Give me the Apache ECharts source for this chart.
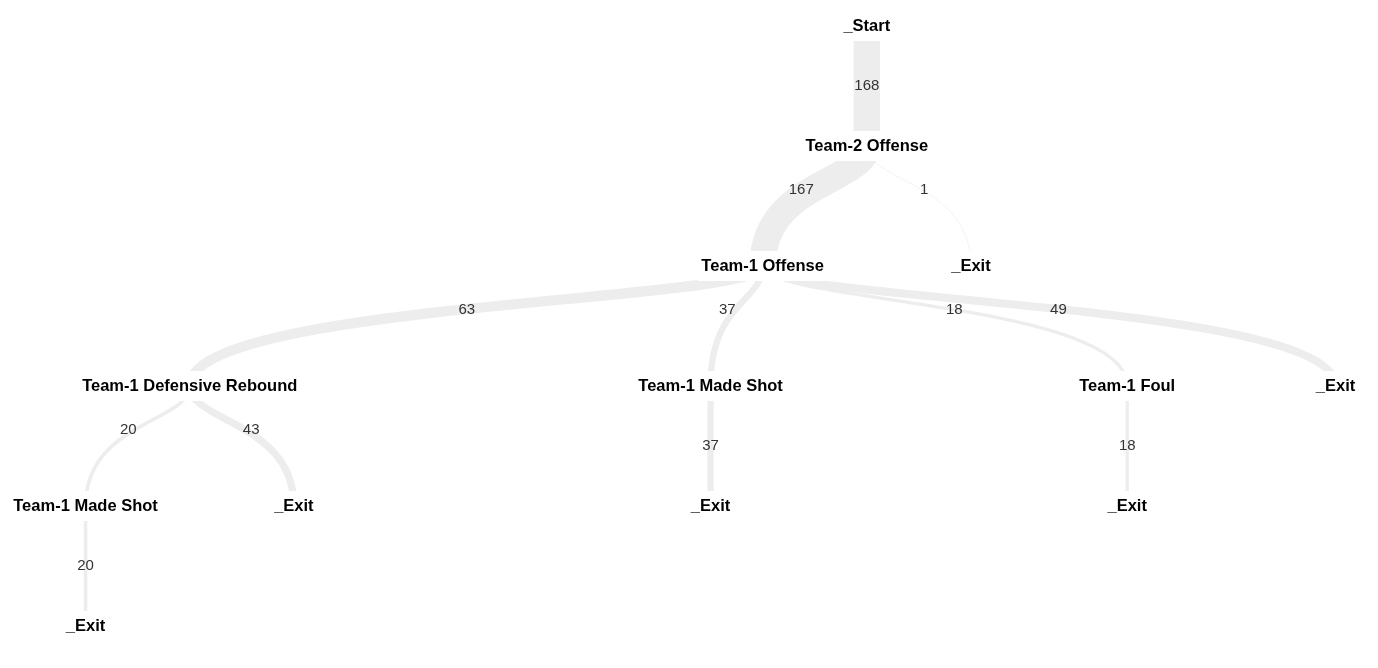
<!DOCTYPE html>
<html><head><meta charset="utf-8">
<script src="https://cdn.jsdelivr.net/npm/echarts@6/dist/echarts.min.js"></script>
<style>html,body{margin:0;padding:0;background:#fff}#c{width:1378px;height:668px}</style>
</head><body><div id="c"></div>
<script>
// ---- data ----
const nodeNames = ['_Start', 'Team-2 Offense', 'Team-1 Offense', '_Exit',
  'Team-1 Defensive Rebound', 'Team-1 Made Shot', 'Team-1 Foul', '_Exit',
  'Team-1 Made Shot', '_Exit', '_Exit', '_Exit', '_Exit'];
const parentIndex = [-1, 0, 1, 1, 2, 2, 2, 2, 4, 4, 5, 6, 8];
const linkValues = [null, 168, 167, 1, 63, 37, 18, 49, 20, 43, 37, 18, 20];

// ---- style ----
const FONT = "'Liberation Sans', Arial, Helvetica, sans-serif";
const LINK_COLOR = '#ededed';
const WIDTH_PER_UNIT = 0.155;
const CURVE_BEND = 0.3;   // both control points sit this far down the link

function buildNode(i) {
  const children = [];
  parentIndex.forEach((p, j) => { if (p === i) children.push(buildNode(j)); });
  const node = { name: nodeNames[i], value: linkValues[i], children: children };
  if (linkValues[i] != null) {
    node.lineStyle = { width: linkValues[i] * WIDTH_PER_UNIT + 0.5, color: LINK_COLOR };
  }
  return node;
}
const treeData = [buildNode(parentIndex.indexOf(-1))];

const chart = echarts.init(document.getElementById('c'), null, { renderer: 'canvas' });
const nodeLabel = {
  show: true, position: 'inside', formatter: '{b}',
  fontFamily: FONT, fontSize: 16.5, fontWeight: 'bold', color: '#000',
  backgroundColor: '#fff', padding: [5, 4], lineHeight: 20,
  align: 'center', verticalAlign: 'middle', rotate: 0
};
chart.setOption({
  animation: false,
  backgroundColor: '#fff',
  series: [{
    type: 'tree',
    orient: 'TB',
    data: treeData,
    left: -122.8, right: -165.9, top: 26, bottom: 42,
    initialTreeDepth: -1,
    expandAndCollapse: false,
    roam: false,
    edgeShape: 'curve',
    symbol: 'circle',
    symbolSize: 0.1,
    itemStyle: { color: 'rgba(0,0,0,0)', borderWidth: 0 },
    lineStyle: { color: LINK_COLOR, curveness: 0.5 },
    label: nodeLabel,
    leaves: { label: nodeLabel },
    emphasis: { disabled: true }
  }]
});

// ---- edge value labels, placed from the library's tree layout ----
function nodePos(data, series, node) {
  const el = data.getItemGraphicEl(node.dataIndex);
  if (el && el.getComputedTransform) {
    const m = el.getComputedTransform();
    if (m) return [m[4], m[5]];
  }
  const l = node.getLayout();
  const li = series.layoutInfo || { x: 0, y: 0 };
  return [l.x + li.x, l.y + li.y];
}
let series = chart.getModel().getSeriesByIndex(0);
let data = series.getData();
const texts = [];
data.tree.eachNode(function (node) {
  const parent = node.parentNode;
  if (!parent || parent.depth < 1) return;
  const p0 = nodePos(data, series, parent);
  const p1 = nodePos(data, series, node);
  const dx = p1[0] - p0[0], h = p1[1] - p0[1];
  const cy = p0[1] + CURVE_BEND * h;
  let x = (p0[0] + p1[0]) / 2;
  let y = (p0[1] + 6 * cy + p1[1]) / 8;
  let align = 'center';
  if (Math.abs(dx) < 0.5) {
    y = (p0[1] + p1[1]) / 2;
  } else {
    align = dx < 0 ? 'right' : 'left';
    x += dx < 0 ? -1 : 1;
    y += 2;
  }
  texts.push({
    type: 'text', x: x, y: y, z: 10,
    style: {
      text: String(node.getValue()), fill: '#333', fontSize: 15, fontFamily: FONT,
      align: align, verticalAlign: 'middle'
    }
  });
});
chart.setOption({ graphic: { elements: texts } });

// ---- bend the library's own link curves (control points high on each link) ----
series = chart.getModel().getSeriesByIndex(0);
data = series.getData();
data.tree.eachNode(function (node) {
  const el = data.getItemGraphicEl(node.dataIndex);
  const edge = el && el.__edge;
  if (!edge || !edge.shape || edge.shape.cpy1 == null) return;
  const s = edge.shape;
  const cy = s.y1 + CURVE_BEND * (s.y2 - s.y1);
  edge.setShape({ cpx1: s.x1, cpy1: cy, cpx2: s.x2, cpy2: cy });
});
chart.getZr().refresh();
</script>
</body></html>
